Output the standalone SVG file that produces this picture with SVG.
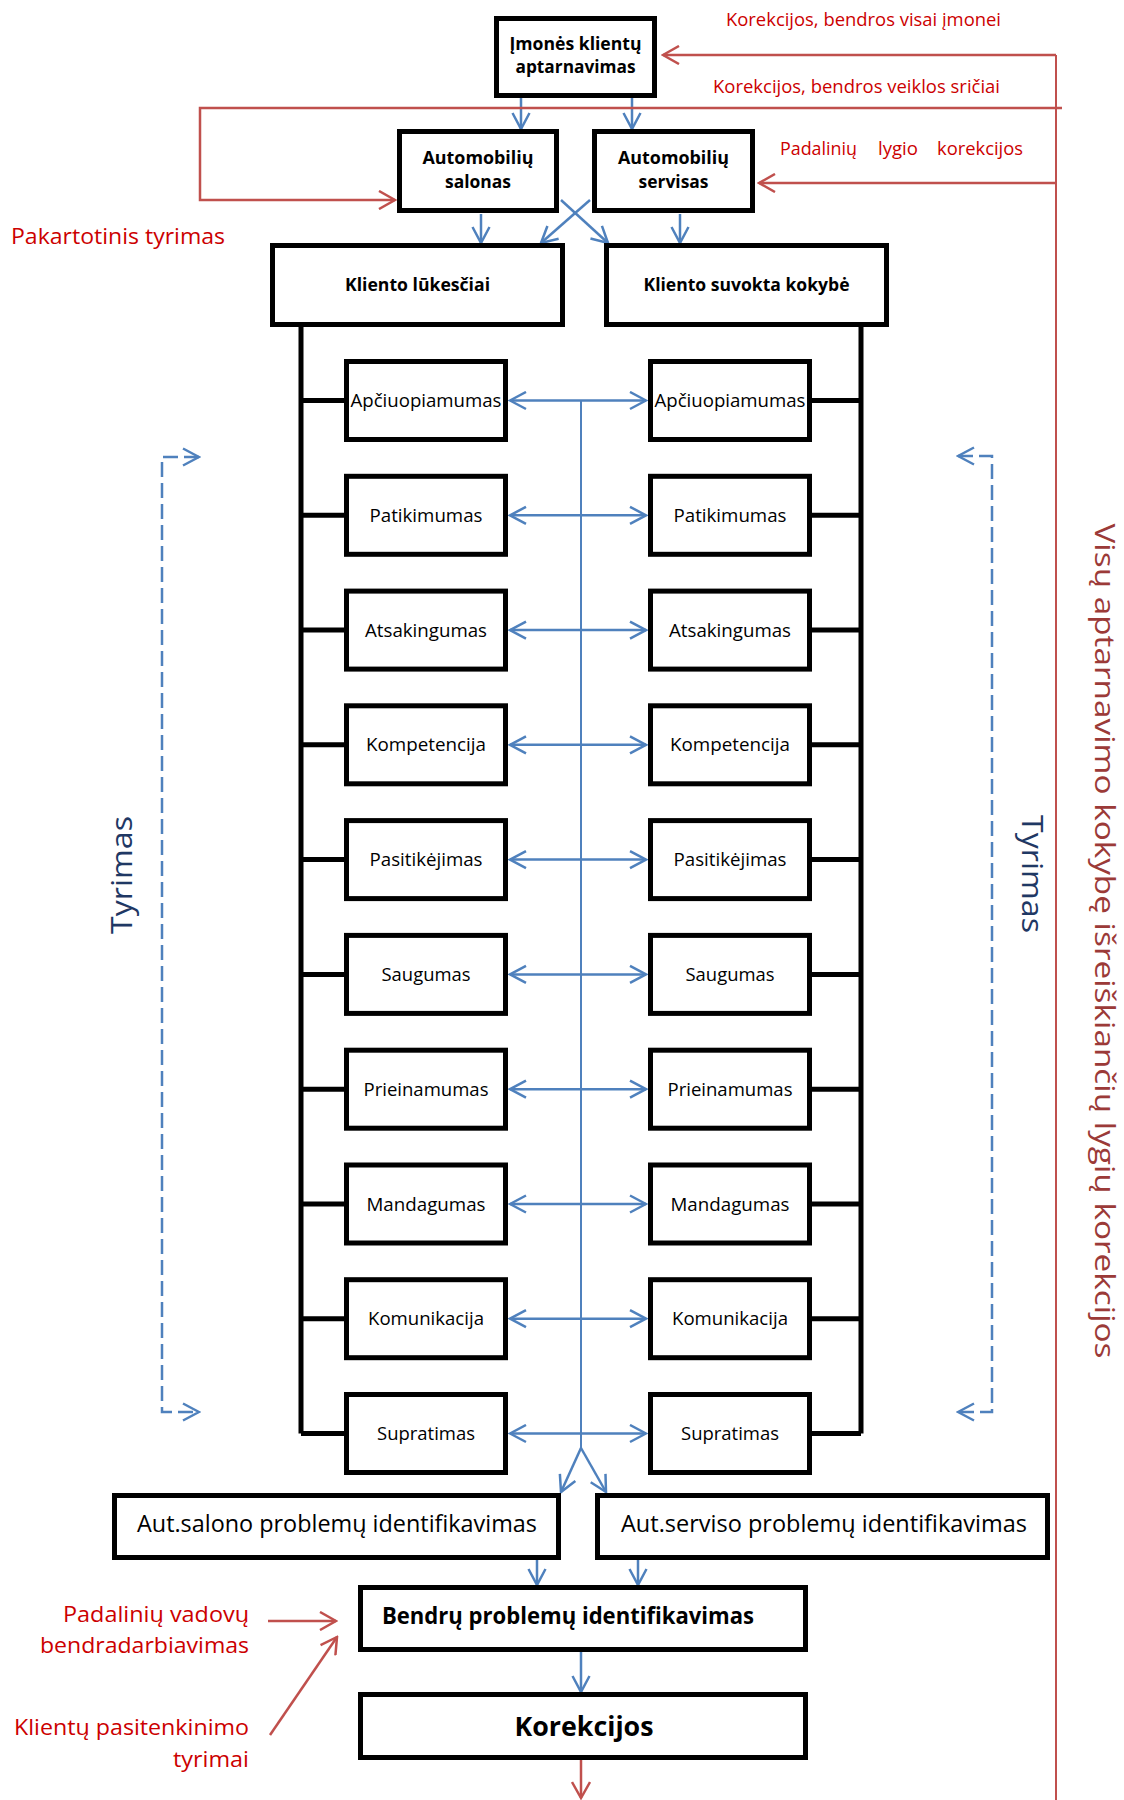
<svg xmlns="http://www.w3.org/2000/svg" width="1124" height="1800" viewBox="0 0 1124 1800">
<defs>
<marker id="ab" markerUnits="userSpaceOnUse" viewBox="0 0 20 20" refX="18" refY="10" markerWidth="20" markerHeight="20" orient="auto-start-reverse">
<path d="M2,1.5 L18,10 L2,18.5" fill="none" stroke="#4F81BD" stroke-width="2.5"/>
</marker>
<marker id="ar" markerUnits="userSpaceOnUse" viewBox="0 0 20 20" refX="18" refY="10" markerWidth="20" markerHeight="20" orient="auto-start-reverse">
<path d="M2,1 L18,10 L2,19" fill="none" stroke="#C0504D" stroke-width="2.5"/>
</marker>
</defs>
<style>
.box{fill:#fff;stroke:#000;stroke-width:5}
.t{font-family:"Open Sans","Noto Sans","DejaVu Sans",sans-serif;fill:#000}
.b{font-weight:bold}
.c{text-anchor:middle}
.e{text-anchor:end}
.s17{font-size:17px}
.s18{font-size:18.5px}
.s22{font-size:22px}
.s23{font-size:23px}
.red{fill:#CC0000}
.bl{fill:none;stroke:#4F81BD;stroke-width:2.5}
.bc{fill:none;stroke:#4F81BD;stroke-width:2}
.rl{fill:none;stroke:#C0504D;stroke-width:2.5}
.blk{fill:none;stroke:#000;stroke-width:5}
.dash{fill:none;stroke:#4F81BD;stroke-width:2.5;stroke-dasharray:15,6}
</style>

<g id="connectors">
  <path class="blk" d="M301,325 L301,1433.5 M301,400.5 L346,400.5 M301,515.3 L346,515.3 M301,630.1 L346,630.1 M301,744.8 L346,744.8 M301,859.6 L346,859.6 M301,974.4 L346,974.4 M301,1089.2 L346,1089.2 M301,1204 L346,1204 M301,1318.7 L346,1318.7 M301,1433.5 L346,1433.5"/>
  <path class="blk" d="M861,325 L861,1433.5 M861,400.5 L810,400.5 M861,515.3 L810,515.3 M861,630.1 L810,630.1 M861,744.8 L810,744.8 M861,859.6 L810,859.6 M861,974.4 L810,974.4 M861,1089.2 L810,1089.2 M861,1204 L810,1204 M861,1318.7 L810,1318.7 M861,1433.5 L810,1433.5"/>
  <path class="bl" d="M521,98 L521,129" marker-end="url(#ab)"/>
  <path class="bl" d="M632,98 L632,129" marker-end="url(#ab)"/>
  <path class="bl" d="M481,214 L481,243" marker-end="url(#ab)"/>
  <path class="bl" d="M680,214 L680,243" marker-end="url(#ab)"/>
  <path class="bl" d="M561,200 L608,243" marker-end="url(#ab)"/>
  <path class="bl" d="M590,200 L541,243" marker-end="url(#ab)"/>
  <path class="bc" d="M581,400.5 L581,1448"/>
  <path class="bl" d="M581,1448 L561,1492" marker-end="url(#ab)"/>
  <path class="bl" d="M581,1448 L606,1492" marker-end="url(#ab)"/>
  <path class="bl" d="M510,400.5 L646,400.5" marker-start="url(#ab)" marker-end="url(#ab)"/>
  <path class="bl" d="M510,515.3 L646,515.3" marker-start="url(#ab)" marker-end="url(#ab)"/>
  <path class="bl" d="M510,630.1 L646,630.1" marker-start="url(#ab)" marker-end="url(#ab)"/>
  <path class="bl" d="M510,744.8 L646,744.8" marker-start="url(#ab)" marker-end="url(#ab)"/>
  <path class="bl" d="M510,859.6 L646,859.6" marker-start="url(#ab)" marker-end="url(#ab)"/>
  <path class="bl" d="M510,974.4 L646,974.4" marker-start="url(#ab)" marker-end="url(#ab)"/>
  <path class="bl" d="M510,1089.2 L646,1089.2" marker-start="url(#ab)" marker-end="url(#ab)"/>
  <path class="bl" d="M510,1204 L646,1204" marker-start="url(#ab)" marker-end="url(#ab)"/>
  <path class="bl" d="M510,1318.7 L646,1318.7" marker-start="url(#ab)" marker-end="url(#ab)"/>
  <path class="bl" d="M510,1433.5 L646,1433.5" marker-start="url(#ab)" marker-end="url(#ab)"/>
  <path class="bl" d="M537,1560 L537,1585" marker-end="url(#ab)"/>
  <path class="bl" d="M638,1560 L638,1585" marker-end="url(#ab)"/>
  <path class="bl" d="M581,1652 L581,1692" marker-end="url(#ab)"/>
  <path class="dash" d="M199,457 L162,457 L162,1412 L199,1412" marker-start="url(#ab)" marker-end="url(#ab)"/>
  <path class="dash" d="M958,456 L992,456 L992,1412 L958,1412" marker-start="url(#ab)" marker-end="url(#ab)"/>
  <path class="rl" d="M1056,55 L1056,1800" style="stroke-width:2"/>
  <path class="rl" d="M1056,55 L663,55" marker-end="url(#ar)"/>
  <path class="rl" d="M1056,183 L759,183" marker-end="url(#ar)"/>
  <path class="rl" d="M1062,108 L200,108 L200,200 L395,200" marker-end="url(#ar)"/>
  <path class="rl" d="M581,1760 L581,1798" marker-end="url(#ar)"/>
  <path class="rl" d="M268,1621 L336,1621" marker-end="url(#ar)"/>
  <path class="rl" d="M270,1735 L337,1637" marker-end="url(#ar)"/>
</g>

<g id="n-imones">
  <rect class="box" x="496.5" y="18.5" width="158" height="77"/>
  <text class="t b c s17" x="575.5" y="50" textLength="132" lengthAdjust="spacingAndGlyphs">Įmonės klientų</text>
  <text class="t b c s17" x="575.5" y="73" textLength="120" lengthAdjust="spacingAndGlyphs">aptarnavimas</text>
</g>
<g id="n-salonas">
  <rect class="box" x="399.5" y="131.5" width="157" height="79"/>
  <text class="t b c s17" x="478" y="164" textLength="111" lengthAdjust="spacingAndGlyphs">Automobilių</text>
  <text class="t b c s17" x="478" y="188" textLength="66" lengthAdjust="spacingAndGlyphs">salonas</text>
</g>
<g id="n-servisas">
  <rect class="box" x="594.5" y="131.5" width="158" height="79"/>
  <text class="t b c s17" x="673.5" y="164" textLength="111" lengthAdjust="spacingAndGlyphs">Automobilių</text>
  <text class="t b c s17" x="673.5" y="188" textLength="70" lengthAdjust="spacingAndGlyphs">servisas</text>
</g>
<g id="n-lukesciai">
  <rect class="box" x="272.5" y="245.5" width="290" height="79"/>
  <text class="t b c s17" x="417.5" y="291" textLength="145" lengthAdjust="spacingAndGlyphs">Kliento lūkesčiai</text>
</g>
<g id="n-suvokta">
  <rect class="box" x="606.5" y="245.5" width="280" height="79"/>
  <text class="t b c s17" x="746.5" y="291" textLength="206" lengthAdjust="spacingAndGlyphs">Kliento suvokta kokybė</text>
</g>

<g id="n-l1"><rect class="box" x="346.5" y="361.5" width="159" height="78"/><text class="t c s18" x="426" y="407" textLength="151" lengthAdjust="spacingAndGlyphs">Apčiuopiamumas</text></g>
<g id="n-l2"><rect class="box" x="346.5" y="476.3" width="159" height="78"/><text class="t c s18" x="426" y="521.8" textLength="113" lengthAdjust="spacingAndGlyphs">Patikimumas</text></g>
<g id="n-l3"><rect class="box" x="346.5" y="591.1" width="159" height="78"/><text class="t c s18" x="426" y="636.6" textLength="122" lengthAdjust="spacingAndGlyphs">Atsakingumas</text></g>
<g id="n-l4"><rect class="box" x="346.5" y="705.8" width="159" height="78"/><text class="t c s18" x="426" y="751.3" textLength="120" lengthAdjust="spacingAndGlyphs">Kompetencija</text></g>
<g id="n-l5"><rect class="box" x="346.5" y="820.6" width="159" height="78"/><text class="t c s18" x="426" y="866.1" textLength="113" lengthAdjust="spacingAndGlyphs">Pasitikėjimas</text></g>
<g id="n-l6"><rect class="box" x="346.5" y="935.4" width="159" height="78"/><text class="t c s18" x="426" y="980.9" textLength="89" lengthAdjust="spacingAndGlyphs">Saugumas</text></g>
<g id="n-l7"><rect class="box" x="346.5" y="1050.2" width="159" height="78"/><text class="t c s18" x="426" y="1095.7" textLength="125" lengthAdjust="spacingAndGlyphs">Prieinamumas</text></g>
<g id="n-l8"><rect class="box" x="346.5" y="1165" width="159" height="78"/><text class="t c s18" x="426" y="1210.5" textLength="119" lengthAdjust="spacingAndGlyphs">Mandagumas</text></g>
<g id="n-l9"><rect class="box" x="346.5" y="1279.7" width="159" height="78"/><text class="t c s18" x="426" y="1325.2" textLength="116" lengthAdjust="spacingAndGlyphs">Komunikacija</text></g>
<g id="n-l10"><rect class="box" x="346.5" y="1394.5" width="159" height="78"/><text class="t c s18" x="426" y="1440" textLength="98" lengthAdjust="spacingAndGlyphs">Supratimas</text></g>

<g id="n-r1"><rect class="box" x="650.5" y="361.5" width="159" height="78"/><text class="t c s18" x="730" y="407" textLength="151" lengthAdjust="spacingAndGlyphs">Apčiuopiamumas</text></g>
<g id="n-r2"><rect class="box" x="650.5" y="476.3" width="159" height="78"/><text class="t c s18" x="730" y="521.8" textLength="113" lengthAdjust="spacingAndGlyphs">Patikimumas</text></g>
<g id="n-r3"><rect class="box" x="650.5" y="591.1" width="159" height="78"/><text class="t c s18" x="730" y="636.6" textLength="122" lengthAdjust="spacingAndGlyphs">Atsakingumas</text></g>
<g id="n-r4"><rect class="box" x="650.5" y="705.8" width="159" height="78"/><text class="t c s18" x="730" y="751.3" textLength="120" lengthAdjust="spacingAndGlyphs">Kompetencija</text></g>
<g id="n-r5"><rect class="box" x="650.5" y="820.6" width="159" height="78"/><text class="t c s18" x="730" y="866.1" textLength="113" lengthAdjust="spacingAndGlyphs">Pasitikėjimas</text></g>
<g id="n-r6"><rect class="box" x="650.5" y="935.4" width="159" height="78"/><text class="t c s18" x="730" y="980.9" textLength="89" lengthAdjust="spacingAndGlyphs">Saugumas</text></g>
<g id="n-r7"><rect class="box" x="650.5" y="1050.2" width="159" height="78"/><text class="t c s18" x="730" y="1095.7" textLength="125" lengthAdjust="spacingAndGlyphs">Prieinamumas</text></g>
<g id="n-r8"><rect class="box" x="650.5" y="1165" width="159" height="78"/><text class="t c s18" x="730" y="1210.5" textLength="119" lengthAdjust="spacingAndGlyphs">Mandagumas</text></g>
<g id="n-r9"><rect class="box" x="650.5" y="1279.7" width="159" height="78"/><text class="t c s18" x="730" y="1325.2" textLength="116" lengthAdjust="spacingAndGlyphs">Komunikacija</text></g>
<g id="n-r10"><rect class="box" x="650.5" y="1394.5" width="159" height="78"/><text class="t c s18" x="730" y="1440" textLength="98" lengthAdjust="spacingAndGlyphs">Supratimas</text></g>

<g id="n-autsalono">
  <rect class="box" x="114.5" y="1495.5" width="444" height="62"/>
  <text class="t s23" x="137" y="1532" textLength="400" lengthAdjust="spacingAndGlyphs">Aut.salono problemų identifikavimas</text>
</g>
<g id="n-autserviso">
  <rect class="box" x="597.5" y="1495.5" width="450" height="62"/>
  <text class="t s23" x="621" y="1532" textLength="406" lengthAdjust="spacingAndGlyphs">Aut.serviso problemų identifikavimas</text>
</g>
<g id="n-bendru">
  <rect class="box" x="360.5" y="1587.5" width="445" height="62"/>
  <text class="t b s23" x="382" y="1624" textLength="372" lengthAdjust="spacingAndGlyphs">Bendrų problemų identifikavimas</text>
</g>
<g id="n-korekcijos">
  <rect class="box" x="360.5" y="1694.5" width="445" height="63"/>
  <text class="t b c" style="font-size:26px" x="584" y="1736" textLength="139" lengthAdjust="spacingAndGlyphs">Korekcijos</text>
</g>

<g id="labels">
  <text class="t red s18" x="726" y="25.5" textLength="275" lengthAdjust="spacingAndGlyphs">Korekcijos, bendros visai įmonei</text>
  <text class="t red s18" x="713" y="92.5" textLength="287" lengthAdjust="spacingAndGlyphs">Korekcijos, bendros veiklos sričiai</text>
  <text class="t red s18" x="780" y="155" textLength="77" lengthAdjust="spacingAndGlyphs">Padalinių</text>
  <text class="t red s18" x="878" y="155" textLength="40" lengthAdjust="spacingAndGlyphs">lygio</text>
  <text class="t red s18" x="937" y="155" textLength="86" lengthAdjust="spacingAndGlyphs">korekcijos</text>
  <text class="t red s22" x="11" y="244" textLength="214" lengthAdjust="spacingAndGlyphs">Pakartotinis tyrimas</text>
  <text class="t red s22 e" x="249" y="1622" textLength="186" lengthAdjust="spacingAndGlyphs">Padalinių vadovų</text>
  <text class="t red s22 e" x="249" y="1653" textLength="209" lengthAdjust="spacingAndGlyphs">bendradarbiavimas</text>
  <text class="t red s22 e" x="249" y="1735" textLength="235" lengthAdjust="spacingAndGlyphs">Klientų pasitenkinimo</text>
  <text class="t red s22 e" x="249" y="1767" textLength="76" lengthAdjust="spacingAndGlyphs">tyrimai</text>
  <text class="t c" style="font-size:30px;fill:#1F3864" transform="translate(124,875) rotate(-90)" x="0" y="8" textLength="118" lengthAdjust="spacingAndGlyphs">Tyrimas</text>
  <text class="t c" style="font-size:30px;fill:#1F3864" transform="translate(1030,874) rotate(90)" x="0" y="8" textLength="118" lengthAdjust="spacingAndGlyphs">Tyrimas</text>
  <text class="t c" style="font-size:28px;fill:#9B3A38" transform="translate(1104,941) rotate(90)" x="0" y="9" textLength="835" lengthAdjust="spacingAndGlyphs">Visų aptarnavimo kokybę išreiškiančių lygių korekcijos</text>
</g>
</svg>
